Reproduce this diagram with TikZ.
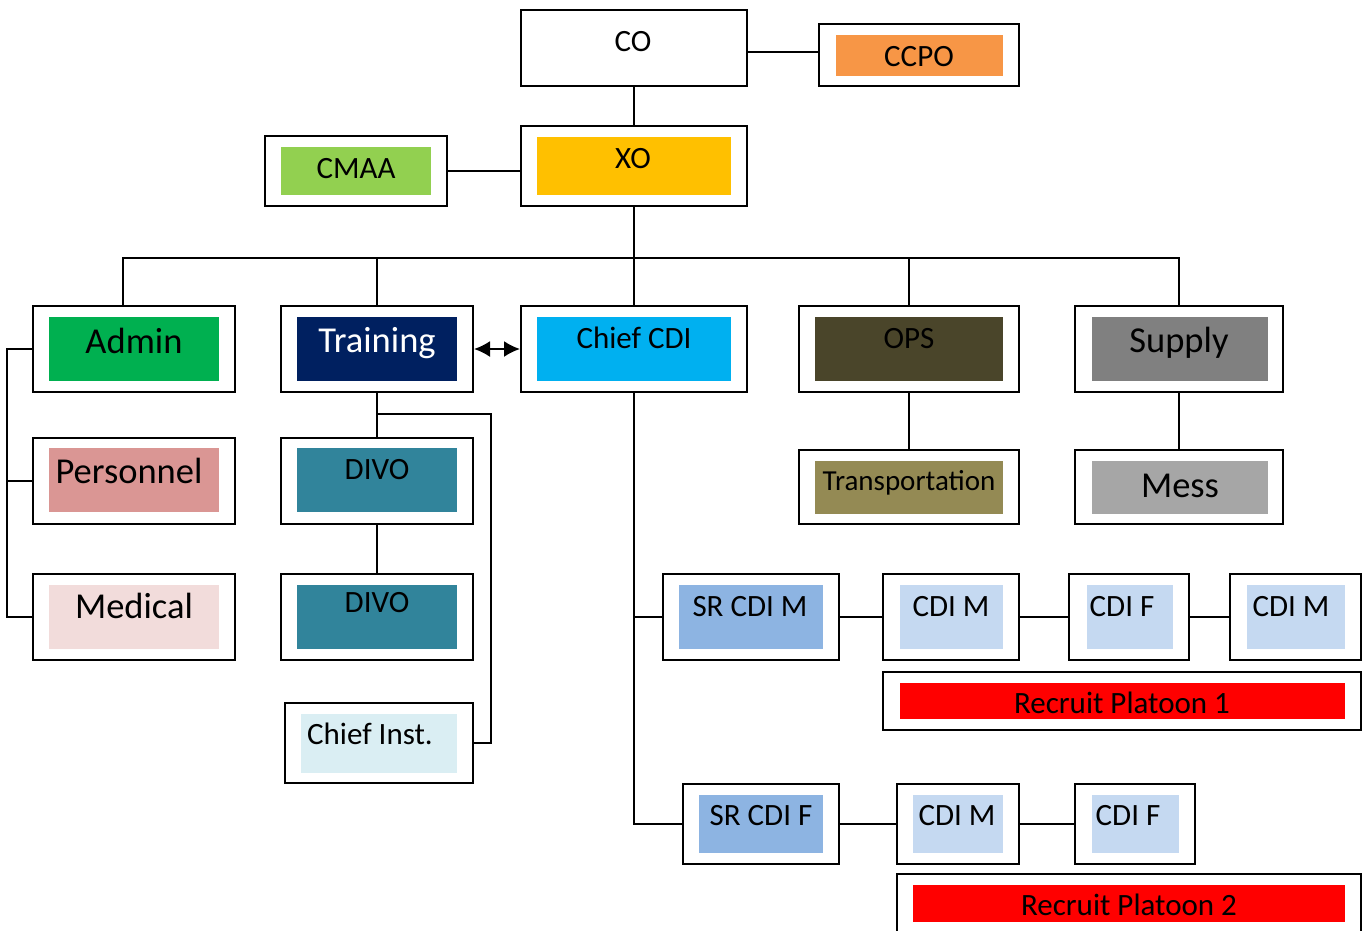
\documentclass[tikz,border=0pt]{standalone}
\usepackage{fontspec}
\setmainfont{Carlito}
\usetikzlibrary{fit,arrows.meta}
\definecolor{ccpoC}{HTML}{F79646}
\definecolor{xoC}{HTML}{FFC000}
\definecolor{cmaaC}{HTML}{92D050}
\definecolor{adminC}{HTML}{00B050}
\definecolor{trainC}{HTML}{002060}
\definecolor{chiefC}{HTML}{00B0F0}
\definecolor{opsC}{HTML}{4A452A}
\definecolor{supplyC}{HTML}{808080}
\definecolor{transC}{HTML}{948A54}
\definecolor{messC}{HTML}{A6A6A6}
\definecolor{persC}{HTML}{DA9694}
\definecolor{medC}{HTML}{F2DCDB}
\definecolor{divoC}{HTML}{31849B}
\definecolor{instC}{HTML}{DAEEF3}
\definecolor{srC}{HTML}{8DB4E2}
\definecolor{cdiC}{HTML}{C5D9F1}
\definecolor{recC}{HTML}{FF0000}
\tikzset{
  outerbox/.style={draw=black, line width=2pt, fill=white, rectangle, inner sep=0pt},
  innerbox/.style={rectangle, inner sep=0pt, draw=none},
  lbl/.style={anchor=base, inner sep=0pt, font=\fontsize{31}{34}\selectfont},
  biglbl/.style={anchor=base, inner sep=0pt, font=\fontsize{36.5}{40}\selectfont},
  conn/.style={draw=black, line width=2pt},
  dblarrow/.style={{Latex[length=16pt,width=16pt]}-{Latex[length=16pt,width=16pt]}},
}
\newcommand\ob[3]{\node[outerbox, fit={#2 #3}] (#1) {};}
\newcommand\ib[4]{\node[innerbox, fill=#4, fit={#2 #3}] (#1) {};}
\begin{document}
\begin{tikzpicture}[x=1pt,y=-1pt]
\clip (0,0) rectangle (1367,930);
% boxes
\ob{co}{(521,10)}{(747,86)}
\node[lbl] (co-t) at (633,51) {CO};
\ob{ccpo}{(819,24)}{(1019,86)}
\ib{ccpo-in}{(836,35)}{(1003,76)}{ccpoC}
\node[lbl] (ccpo-t) at (919,66) {CCPO};
\ob{xo}{(521,126)}{(747,206)}
\ib{xo-in}{(537,137)}{(731,195)}{xoC}
\node[lbl] (xo-t) at (633,168) {XO};
\ob{cmaa}{(265,136)}{(447,206)}
\ib{cmaa-in}{(281,147)}{(431,195)}{cmaaC}
\node[lbl] (cmaa-t) at (356,178) {CMAA};
% row 1
\ob{admin}{(33,306)}{(235,392)}
\ib{admin-in}{(49,317)}{(219,381)}{adminC}
\node[biglbl] (admin-t) at (134,353) {Admin};
\ob{training}{(281,306)}{(473,392)}
\ib{training-in}{(297,317)}{(457,381)}{trainC}
\node[biglbl, text=white] (training-t) at (377,352) {Training};
\ob{chiefcdi}{(521,306)}{(747,392)}
\ib{chiefcdi-in}{(537,317)}{(731,381)}{chiefC}
\node[lbl] (chiefcdi-t) at (634,348) {Chief CDI};
\ob{ops}{(799,306)}{(1019,392)}
\ib{ops-in}{(815,317)}{(1003,381)}{opsC}
\node[lbl] (ops-t) at (909,348) {OPS};
\ob{supply}{(1075,306)}{(1283,392)}
\ib{supply-in}{(1092,317)}{(1268,381)}{supplyC}
\node[biglbl] (supply-t) at (1179,352) {Supply};
% admin column
\ob{personnel}{(33,438)}{(235,524)}
\ib{personnel-in}{(49,448)}{(219,512)}{persC}
\node[biglbl] (personnel-t) at (129,483) {Personnel};
\ob{medical}{(33,574)}{(235,660)}
\ib{medical-in}{(49,585)}{(219,649)}{medC}
\node[biglbl] (medical-t) at (134,618) {Medical};
% training column
\ob{divo1}{(281,438)}{(473,524)}
\ib{divo1-in}{(297,448)}{(457,512)}{divoC}
\node[lbl] (divo1-t) at (377,479) {DIVO};
\ob{divo2}{(281,574)}{(473,660)}
\ib{divo2-in}{(297,585)}{(457,649)}{divoC}
\node[lbl] (divo2-t) at (377,612) {DIVO};
\ob{chiefinst}{(285,703)}{(473,783)}
\ib{chiefinst-in}{(301,714)}{(457,773)}{instC}
\node[lbl] (chiefinst-t) at (370,744) {Chief Inst.};
% ops / supply
\ob{transp}{(799,450)}{(1019,524)}
\ib{transp-in}{(815,461)}{(1003,514)}{transC}
\node[anchor=base, inner sep=0pt, font=\fontsize{29}{32}\selectfont] (transp-t) at (909,490) {Transportation};
\ob{mess}{(1075,450)}{(1283,524)}
\ib{mess-in}{(1092,461)}{(1268,514)}{messC}
\node[biglbl] (mess-t) at (1180,497) {Mess};
% platoon 1
\ob{srcdim}{(663,574)}{(839,660)}
\ib{srcdim-in}{(679,585)}{(823,649)}{srC}
\node[lbl] (srcdim-t) at (750,616) {SR CDI M};
\ob{cdim1}{(883,574)}{(1019,660)}
\ib{cdim1-in}{(900,585)}{(1003,649)}{cdiC}
\node[lbl] (cdim1-t) at (951,616) {CDI M};
\ob{cdif1}{(1069,574)}{(1189,660)}
\ib{cdif1-in}{(1087,585)}{(1173,649)}{cdiC}
\node[lbl] (cdif1-t) at (1122,616) {CDI F};
\ob{cdim2}{(1230,574)}{(1361,660)}
\ib{cdim2-in}{(1247,585)}{(1345,649)}{cdiC}
\node[lbl] (cdim2-t) at (1291,616) {CDI M};
\ob{rp1}{(883,672)}{(1361,730)}
\ib{rp1-in}{(900,683)}{(1345,719)}{recC}
\node[lbl] (rp1-t) at (1122,713) {Recruit Platoon 1};
% platoon 2
\ob{srcdif}{(683,784)}{(839,864)}
\ib{srcdif-in}{(699,795)}{(823,853)}{srC}
\node[lbl] (srcdif-t) at (761,825) {SR CDI F};
\ob{cdim3}{(897,784)}{(1019,864)}
\ib{cdim3-in}{(913,795)}{(1003,853)}{cdiC}
\node[lbl] (cdim3-t) at (957,825) {CDI M};
\ob{cdif2}{(1075,784)}{(1195,864)}
\ib{cdif2-in}{(1092,795)}{(1179,853)}{cdiC}
\node[lbl] (cdif2-t) at (1128,825) {CDI F};
\ob{rp2}{(897,874)}{(1361,950)}
\ib{rp2-in}{(913,885)}{(1345,922)}{recC}
\node[lbl] (rp2-t) at (1129,915) {Recruit Platoon 2};
% helper coordinates
\coordinate (ccpoy) at (0,52);
\coordinate (bus) at (0,258);
\coordinate (lx) at (7,0);
\coordinate (adx) at (123,0);
\coordinate (tj) at (0,414);
\coordinate (rx) at (491,0);
% connectors
\draw[conn] (co.east |- ccpoy) -- (ccpo.west |- ccpoy);
\draw[conn] (co.south) -- (xo.north);
\draw[conn] (cmaa.east) -- (cmaa.east -| xo.west);
\draw[conn] (xo.south) -- (xo.south |- bus);
\draw[conn] (adx |- admin.north) -- (adx |- bus) -- (supply.north |- bus) -- (supply.north);
\draw[conn] (training.north) -- (training.north |- bus);
\draw[conn] (chiefcdi.north) -- (chiefcdi.north |- bus);
\draw[conn] (ops.north) -- (ops.north |- bus);
\draw[conn, dblarrow] (training.east) -- (chiefcdi.west);
\draw[conn] (admin.west) -- (admin.west -| lx) -- (medical.west -| lx) -- (medical.west);
\draw[conn] (personnel.west) -- (personnel.west -| lx);
\draw[conn] (training.south) -- (divo1.north);
\draw[conn] (divo1.south) -- (divo2.north);
\draw[conn] (training.south |- tj) -- (rx |- tj) -- (rx |- chiefinst.east) -- (chiefinst.east);
\draw[conn] (ops.south) -- (transp.north);
\draw[conn] (supply.south) -- (mess.north);
\draw[conn] (chiefcdi.south) -- (chiefcdi.south |- srcdif.west) -- (srcdif.west);
\draw[conn] (srcdim.west) -- (srcdim.west -| chiefcdi.south);
\draw[conn] (srcdim.east) -- (cdim1.west);
\draw[conn] (cdim1.east) -- (cdif1.west);
\draw[conn] (cdif1.east) -- (cdim2.west);
\draw[conn] (srcdif.east) -- (cdim3.west);
\draw[conn] (cdim3.east) -- (cdif2.west);
\end{tikzpicture}
\end{document}
